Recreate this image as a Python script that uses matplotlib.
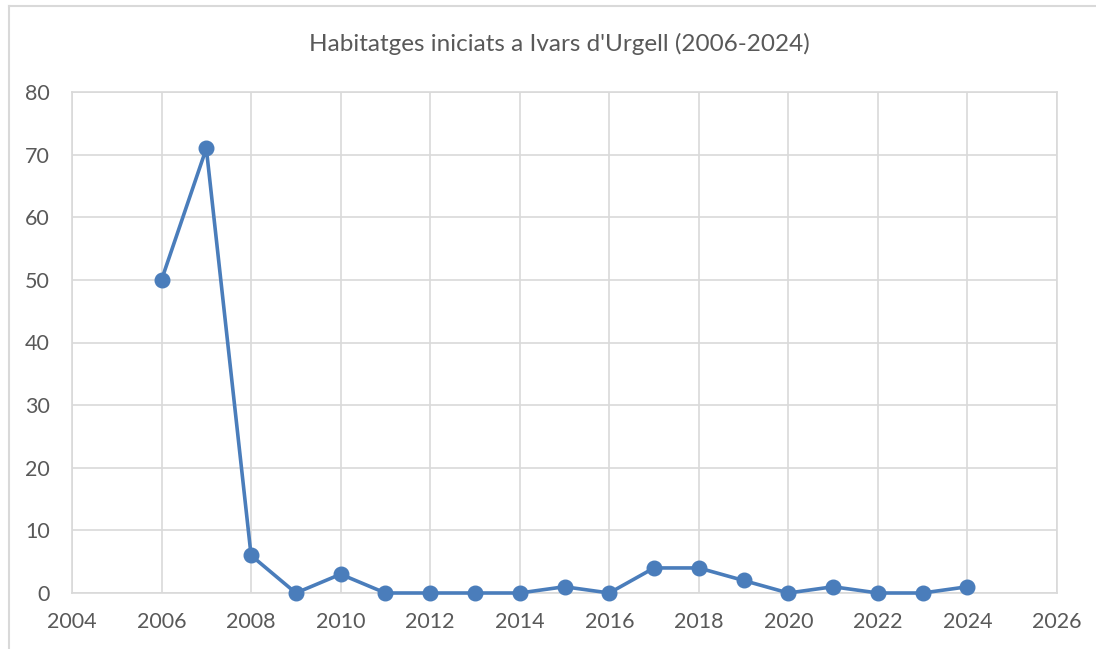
import matplotlib.pyplot as plt
from matplotlib.lines import Line2D

years = [2006, 2007, 2008, 2009, 2010, 2011, 2012, 2013, 2014, 2015,
         2016, 2017, 2018, 2019, 2020, 2021, 2022, 2023, 2024]
habitatges = [50, 71, 6, 0, 3, 0, 0, 0, 0, 1, 0, 4, 4, 2, 0, 1, 0, 0, 1]
xticks = list(range(2004, 2027, 2))
yticks = list(range(0, 81, 10))

plt.rcParams['font.family'] = ['Lato', 'DejaVu Sans']
grid_col = '#d9d9d9'
text_col = '#595959'
line_col = '#4a7dbb'

fig = plt.figure(figsize=(10.96, 6.49), dpi=100)
ax = fig.add_axes([72/1096, 1-593/649, (1057-72)/1096, (593-92)/649])

# chart frame: only the left and top edges fall inside the image
fx, fy = 9/1096, 1-6/649
fig.lines.append(Line2D([fx, fx], [0, fy], transform=fig.transFigure,
                        color=grid_col, lw=1.5))
fig.lines.append(Line2D([fx, 1], [fy, fy], transform=fig.transFigure,
                        color=grid_col, lw=1.5))

ax.plot(years, habitatges, color=line_col, lw=2.6, marker='o',
        markersize=10.5, zorder=3, clip_on=False)

ax.set_xlim(2004, 2026)
ax.set_ylim(0, 80)
ax.set_xticks(xticks)
ax.set_yticks(yticks)
ax.grid(True, color=grid_col, lw=1.2)
ax.set_axisbelow(True)
for s in ax.spines.values():
    s.set_color(grid_col)
    s.set_linewidth(1.2)
ax.tick_params(length=0, labelsize=15.5, colors=text_col)
ax.tick_params(axis='x', pad=14)
ax.tick_params(axis='y', pad=16)

fig.text(0.51, 1-44/649, "Habitatges iniciats a Ivars d'Urgell (2006-2024)",
         ha='center', va='center', fontsize=17.5, color=text_col)

fig.savefig('out.png', dpi=100)
